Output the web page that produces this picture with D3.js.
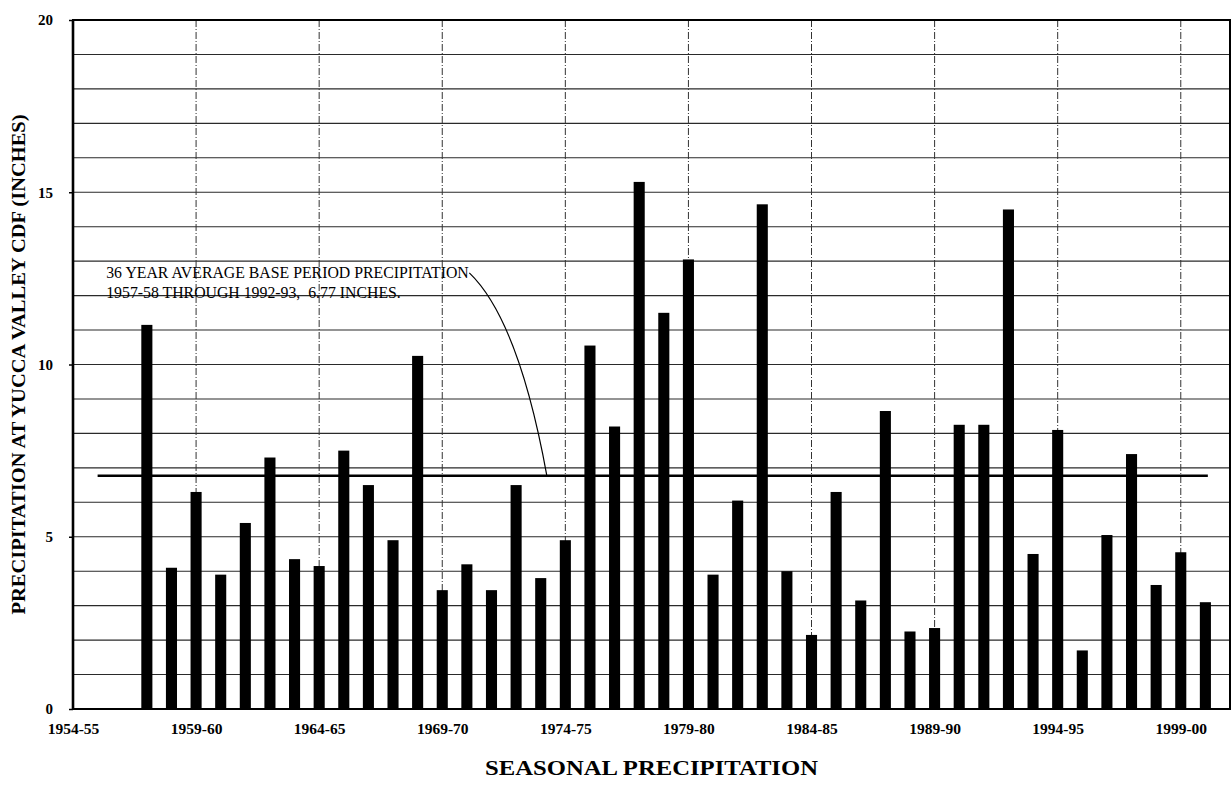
<!DOCTYPE html>
<html>
<head>
<meta charset="utf-8">
<script src="https://cdn.jsdelivr.net/npm/d3@7"></script>
<style>
  html, body { margin: 0; padding: 0; background: #fff; }
  svg { display: block; }
  text { font-family: "Liberation Serif", "Times New Roman", serif; fill: #000; }
</style>
</head>
<body>
<svg id="chart" width="1232" height="790"></svg>
<script>
// Seasonal precipitation totals at Yucca Valley CDF, inches
const seasons = [
  "1957-58","1958-59","1959-60","1960-61","1961-62","1962-63","1963-64","1964-65",
  "1965-66","1966-67","1967-68","1968-69","1969-70","1970-71","1971-72","1972-73",
  "1973-74","1974-75","1975-76","1976-77","1977-78","1978-79","1979-80","1980-81",
  "1981-82","1982-83","1983-84","1984-85","1985-86","1986-87","1987-88","1988-89",
  "1989-90","1990-91","1991-92","1992-93","1993-94","1994-95","1995-96","1996-97",
  "1997-98","1998-99","1999-00","2000-01"
];
const precip = [
  11.15, 4.1, 6.3, 3.9, 5.4, 7.3, 4.35, 4.15,
  7.5, 6.5, 4.9, 10.25, 3.45, 4.2, 3.45, 6.5,
  3.8, 4.9, 10.55, 8.2, 15.3, 11.5, 13.05, 3.9,
  6.05, 14.65, 4.0, 2.15, 6.3, 3.15, 8.65, 2.25,
  2.35, 8.25, 8.25, 14.5, 4.5, 8.1, 1.7, 5.05,
  7.4, 3.6, 4.55, 3.1
];
const xTickLabels = ["1954-55","1959-60","1964-65","1969-70","1974-75","1979-80","1984-85","1989-90","1994-95","1999-00"];
const yTickValues = [0, 5, 10, 15, 20];
const baseAverage = 6.77;
const noteLines = [
  "36 YEAR AVERAGE BASE PERIOD PRECIPITATION",
  "1957-58 THROUGH 1992-93,  6.77 INCHES."
];
const xTitle = "SEASONAL PRECIPITATION";
const yTitle = "PRECIPITATION AT YUCCA VALLEY CDF (INCHES)";

const startYear = s => +s.slice(0, 4);

const svg = d3.select("#chart");
const plotLeft = 73, plotRight = 1230, plotTop = 20, plotBottom = 709;

const x = d3.scaleLinear().domain([1954, 2001]).range([plotLeft, plotRight]);
const y = d3.scaleLinear().domain([0, 20]).range([plotBottom, plotTop]);
const yearStep = x(1955) - x(1954);
const barW = yearStep * 0.45;

// horizontal grid, one line per inch
svg.append("g")
  .selectAll("line")
  .data(d3.range(1, 20))
  .join("line")
  .attr("x1", plotLeft).attr("x2", plotRight)
  .attr("y1", d => y(d)).attr("y2", d => y(d))
  .attr("stroke", "#2a2a2a")
  .attr("stroke-width", 1.1);

// vertical dash-dot grid every five seasons
svg.append("g")
  .selectAll("line")
  .data(xTickLabels.slice(1).map(startYear))
  .join("line")
  .attr("x1", d => x(d)).attr("x2", d => x(d))
  .attr("y1", plotTop).attr("y2", plotBottom)
  .attr("stroke", "#333")
  .attr("stroke-width", 1)
  .attr("stroke-dasharray", "7,2,1,2");

// bars
svg.append("g")
  .selectAll("rect")
  .data(seasons.map((s, i) => ({ yr: startYear(s), v: precip[i] })))
  .join("rect")
  .attr("x", d => x(d.yr) - barW / 2)
  .attr("width", barW)
  .attr("y", d => y(d.v))
  .attr("height", d => y(0) - y(d.v))
  .attr("fill", "#000");

// base-period average line
svg.append("line")
  .attr("x1", x(1955)).attr("x2", x(2000.1))
  .attr("y1", y(baseAverage)).attr("y2", y(baseAverage))
  .attr("stroke", "#000")
  .attr("stroke-width", 2.6);

// plot frame
svg.append("rect")
  .attr("x", plotLeft).attr("y", plotTop)
  .attr("width", plotRight - plotLeft).attr("height", plotBottom - plotTop)
  .attr("fill", "none")
  .attr("stroke", "#000")
  .attr("stroke-width", 2);
svg.append("line")
  .attr("x1", plotLeft).attr("x2", plotLeft)
  .attr("y1", plotTop).attr("y2", plotBottom)
  .attr("stroke", "#000")
  .attr("stroke-width", 2.6);

// y axis
const yAxis = svg.append("g")
  .attr("transform", `translate(${plotLeft},0)`)
  .call(d3.axisLeft(y).tickValues(yTickValues).tickSize(4).tickPadding(16));
yAxis.select(".domain").remove();
yAxis.selectAll("line").attr("stroke", "#000").attr("stroke-width", 1.5);
yAxis.selectAll("text")
  .style("font-family", '"Liberation Serif", serif')
  .style("font-weight", "bold")
  .style("font-size", "15px");

// x axis
const xAxis = svg.append("g")
  .attr("transform", `translate(0,${plotBottom})`)
  .call(d3.axisBottom(x)
    .tickValues(xTickLabels.map(startYear))
    .tickFormat((d, i) => xTickLabels[i])
    .tickSize(0).tickPadding(14));
xAxis.select(".domain").remove();
xAxis.selectAll("text")
  .style("font-family", '"Liberation Serif", serif')
  .style("font-weight", "bold")
  .style("font-size", "15.5px");

// axis titles
svg.append("text")
  .attr("x", (plotLeft + plotRight) / 2).attr("y", 775)
  .attr("text-anchor", "middle")
  .attr("textLength", 333)
  .attr("lengthAdjust", "spacingAndGlyphs")
  .style("font-weight", "bold")
  .style("font-size", "21px")
  .text(xTitle);

svg.append("text")
  .attr("transform", `translate(25,${(plotTop + plotBottom) / 2}) rotate(-90)`)
  .attr("text-anchor", "middle")
  .attr("textLength", 500)
  .attr("lengthAdjust", "spacingAndGlyphs")
  .style("font-weight", "bold")
  .style("font-size", "19.5px")
  .text(yTitle);

// annotation for the average line
const note = svg.append("g");
note.selectAll("text")
  .data(noteLines)
  .join("text")
  .attr("x", x(1955.35))
  .attr("y", (d, i) => y(12.5) + i * 20)
  .style("font-size", "15.8px")
  .style("white-space", "pre")
  .text(d => d);

const leader = d3.path();
leader.moveTo(x(1970.1), y(12.66));
leader.quadraticCurveTo(x(1972.1), y(11.29), x(1973.25), y(baseAverage));
note.append("path")
  .attr("d", leader.toString())
  .attr("fill", "none")
  .attr("stroke", "#000")
  .attr("stroke-width", 1.2);
</script>
</body>
</html>
